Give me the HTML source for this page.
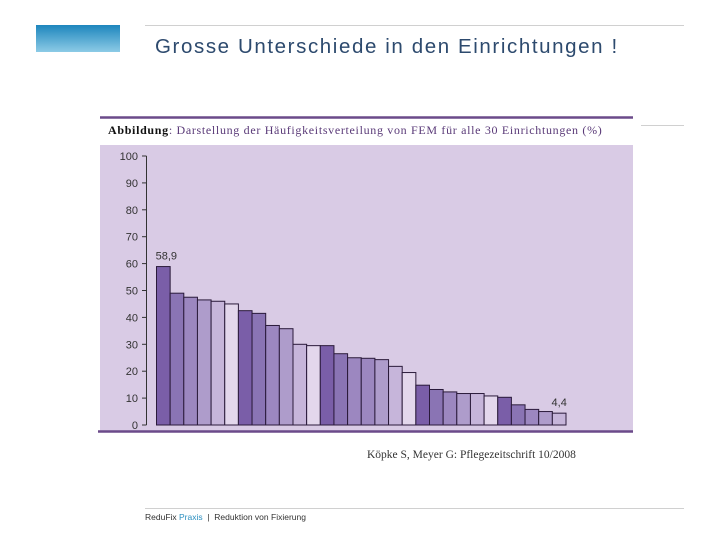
<!DOCTYPE html>
<html><head><meta charset="utf-8"><style>
body{margin:0;width:720px;height:540px;background:#fff;position:relative;overflow:hidden;font-family:"Liberation Sans",sans-serif}
.abs{position:absolute}
</style></head><body>
<div class="abs" style="left:36px;top:25px;width:84px;height:27px;background:linear-gradient(#1e86bd,#8ccbe6)"></div>
<div class="abs" style="left:145px;top:25px;width:539px;height:1px;background:#d0d0d0"></div>
<div class="abs" style="left:155px;top:35px;font-size:20.5px;letter-spacing:1.6px;color:#2d4a6e;white-space:nowrap">Grosse Unterschiede in den Einrichtungen !</div>
<div class="abs" style="left:641px;top:125px;width:43px;height:1px;background:#d0d0d0"></div>
<svg class="abs" style="left:0;top:0" width="720" height="540">
<line x1="100" y1="117.5" x2="633" y2="117.5" stroke="#6b4a8a" stroke-width="2.5"/>
<text x="108" y="134" font-family="Liberation Serif,serif" font-size="12" letter-spacing="0.68" fill="#111"><tspan font-weight="bold">Abbildung</tspan><tspan fill="#5a3a78">: Darstellung der Häufigkeitsverteilung von FEM für alle 30 Einrichtungen (%)</tspan></text>
<rect x="100" y="145" width="533" height="286" fill="#d9cbe5"/>
<line x1="98" y1="431.5" x2="633" y2="431.5" stroke="#6b4a8a" stroke-width="2.5"/>
<g id="axis"></g><g id="bars"></g>
</svg>
<div class="abs" style="left:367px;top:449px;font-family:'Liberation Serif',serif;font-size:11.5px;color:#333;white-space:nowrap">Köpke S, Meyer G: Pflegezeitschrift 10/2008</div>
<div class="abs" style="left:145px;top:508px;width:539px;height:1px;background:#d0d0d0"></div>
<div class="abs" style="left:145px;top:512px;font-size:8.5px;color:#333;white-space:nowrap">ReduFix <span style="color:#2b8fc0">Praxis</span> &nbsp;| &nbsp;Reduktion von Fixierung</div>
<script>
const values=[58.9,49,47.5,46.5,46,45,42.5,41.5,37,35.8,30,29.5,29.5,26.5,25,24.8,24.3,21.8,19.5,14.8,13.2,12.3,11.7,11.7,10.8,10.3,7.5,5.8,5,4.4];
const shades=[0,1,2,3,4,5,0,1,2,3,4,5,0,1,2,2,3,4,5,0,1,2,3,4,5,0,1,2,3,4];
const ticks=[0,10,20,30,40,50,60,70,80,90,100];
const labelsShown={0:"58,9",29:"4,4"};
const colors=["#7a5ea8","#8a74b4","#9c87c0","#ae9ccb","#c6b5da","#e3d7ec"];
const NS="http://www.w3.org/2000/svg";
const y=v=>425-v*2.69;
const x0=156.5,bw=13.65;
const x=i=>x0+i*bw;
const ax=document.getElementById('axis'),bg=document.getElementById('bars');
function mk(t,a,p){const e=document.createElementNS(NS,t);for(const k in a)e.setAttribute(k,a[k]);p.appendChild(e);return e;}
const yl=mk('line',{x1:146.5,y1:y(100),x2:146.5,y2:y(0),stroke:'#333'},ax);


ticks.forEach(t=>{
 mk('line',{x1:142,y1:y(t),x2:146.5,y2:y(t),stroke:'#333'},ax);
 const tx=mk('text',{x:138,y:y(t)+4,'text-anchor':'end','font-size':11,fill:'#333','font-family':'Liberation Sans,sans-serif'},ax);
 tx.textContent=t;
 
 
});
values.forEach((v,i)=>{
 const r=mk('rect',{x:x(i),y:y(v),width:bw,height:y(0)-y(v),fill:colors[shades[i]],stroke:'#2a1a3a','stroke-width':1},bg);
 
 
 if(labelsShown[i]){
  const t=mk('text',{x:x(i)+bw/2+(i==0?3:0),y:y(v)-7,'text-anchor':'middle','font-size':11,fill:'#333','font-family':'Liberation Sans,sans-serif'},bg);
  t.textContent=labelsShown[i];
  
  
 }
});
</script>
</body></html>
